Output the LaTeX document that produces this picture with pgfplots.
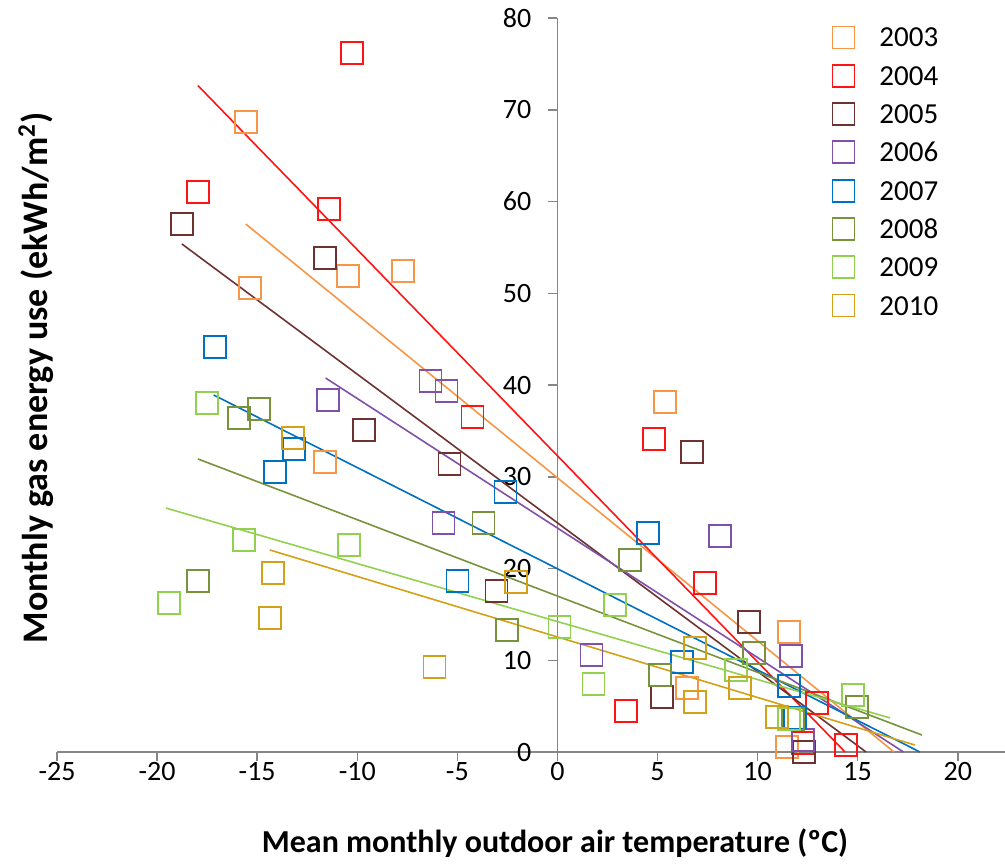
\documentclass[border=0pt]{standalone}
\usepackage{fontspec}
\setmainfont{Carlito}
\usepackage{pgfplots}
\pgfplotsset{compat=1.18}

\definecolor{axisgray}{RGB}{134,134,134}
\definecolor{c2003}{RGB}{247,150,70}
\definecolor{c2004}{RGB}{255,20,20}
\definecolor{c2005}{RGB}{110,50,48}
\definecolor{c2006}{RGB}{128,80,170}
\definecolor{c2007}{RGB}{0,112,192}
\definecolor{c2008}{RGB}{119,147,60}
\definecolor{c2009}{RGB}{146,208,80}
\definecolor{c2010}{RGB}{212,160,23}

\pgfplotsset{
  yr/.style={only marks, mark=square, mark size=5.5pt, line width=0.9pt, color=#1},
  trend/.style={no markers, line width=0.8pt, color=#1, forget plot},
}

\begin{document}
\begin{tikzpicture}
\begin{axis}[
  name=ax, at={(0,0)}, anchor=south west,
  scale only axis, width=474pt, height=367pt,
  xmin=-25, xmax=22.36, ymin=0, ymax=80,
  axis x line=bottom, axis y line=middle,
  axis line style={-, draw=axisgray, line width=0.75pt},
  tick align=outside, major tick length=4.5pt,
  tick style={draw=axisgray, line width=0.75pt},
  xtick={-25,-20,...,20}, ytick={0,10,...,80},
  hide obscured x ticks=false, hide obscured y ticks=false,
  minor tick num=0,
  /pgf/number format/assume math mode=true,
  ticklabel style={font=\fontsize{14}{16}\selectfont},
  yticklabel style={xshift=-5pt},
  xticklabel style={yshift=3pt},
  xlabel={Mean monthly outdoor air temperature (ºC)},
  ylabel={Monthly gas energy use (ekWh/m\textsuperscript{2})},
  xlabel style={at={(axis description cs:0.5253,-0.124)}, anchor=center,
    font=\bfseries\fontsize{16}{19}\selectfont},
  ylabel style={at={(axis description cs:-0.0222,0.5095)}, anchor=center, rotate=90,
    font=\bfseries\fontsize{18}{21}\selectfont},
  legend cell align=left,
  legend image code/.code={\path[draw=none] (-6pt,0pt) -- (15pt,0pt); \draw[#1] plot coordinates {(0pt,0pt)};},
  legend style={draw=none, fill=none, inner sep=0pt,
    at={(axis description cs:0.8165,0.9952)}, anchor=north west,
    font=\fontsize{14.5}{17}\selectfont, row sep=3.65pt,
    nodes={inner sep=3pt, text height=9.5pt, text depth=0pt}},
  clip=false,
]
% 2003
\addplot[yr=c2003] coordinates {
  (-15.57,68.66) (-15.37,50.57) (-10.48,51.88) (-7.73,52.43) (-11.63,31.61)
  (5.39,38.15) (6.49,6.98) (11.58,13.08) (11.48,0.54)
};
\addlegendentry{2003}
% 2004
\addplot[yr=c2004] coordinates {
  (-10.28,76.19) (-17.96,61.04) (-11.43,59.18) (-4.24,36.51) (4.84,34.11)
  (7.39,18.4) (3.44,4.47) (12.97,5.34) (14.42,0.76) (12.28,0.98)
};
\addlegendentry{2004}
% 2005
\addplot[yr=c2005] coordinates {
  (-18.76,57.55) (-11.63,53.84) (-9.68,35.10) (-5.39,31.39) (-3.04,17.55)
  (6.74,32.70) (9.58,14.17) (5.24,5.99) (12.33,0.0)
};
\addlegendentry{2005}
% 2006
\addplot[yr=c2006] coordinates {
  (-6.34,40.44) (-5.54,39.35) (-11.48,38.37) (-5.69,24.96) (8.13,23.54)
  (1.70,10.57) (11.68,10.46) (12.28,1.31)
};
\addlegendentry{2006}
% 2007
\addplot[yr=c2007] coordinates {
  (-17.12,44.14) (-14.12,30.52) (-13.17,33.02) (-2.59,28.34) (4.54,23.87)
  (-4.99,18.64) (6.24,9.81) (11.58,7.19) (11.85,3.71)
};
\addlegendentry{2007}
% 2008
\addplot[yr=c2008] coordinates {
  (-15.92,36.40) (-14.92,37.38) (-3.69,24.96) (-17.96,18.64) (-2.50,13.30)
  (3.64,20.93) (5.14,8.39) (9.83,10.79) (11.75,3.60) (14.97,4.90)
};
\addlegendentry{2008}
% 2009
\addplot[yr=c2009] coordinates {
  (-17.51,38.04) (-15.67,23.11) (-10.43,22.56) (-19.41,16.24) (0.1,13.62)
  (2.89,16.02) (1.80,7.41) (8.93,8.94) (14.77,6.21) (11.55,3.60)
};
\addlegendentry{2009}
% 2010
\addplot[yr=c2010] coordinates {
  (-13.22,34.22) (-14.22,19.51) (-14.37,14.60) (-6.14,9.26) (-2.05,18.53)
  (6.89,11.34) (6.89,5.45) (9.13,6.98) (10.98,3.81)
};
\addlegendentry{2010}
% trend lines
\addplot[trend=c2003] coordinates {(-15.57,57.55) (16.82,0)};
\addplot[trend=c2004] coordinates {(-17.96,72.64) (14.37,0)};
\addplot[trend=c2005] coordinates {(-18.76,55.37) (15.42,0)};
\addplot[trend=c2006] coordinates {(-11.58,40.76) (17.29,0)};
\addplot[trend=c2007] coordinates {(-17.17,38.91) (18.11,0)};
\addplot[trend=c2008] coordinates {(-17.96,31.94) (18.21,1.85)};
\addplot[trend=c2009] coordinates {(-19.56,26.59) (16.62,3.71)};
\addplot[trend=c2010] coordinates {(-14.37,22.02) (17.86,0.76)};
\end{axis}
\pgfresetboundingbox
\path[use as bounding box] (-28.5pt,-56pt) rectangle (474pt,376pt);
\end{tikzpicture}
\end{document}
